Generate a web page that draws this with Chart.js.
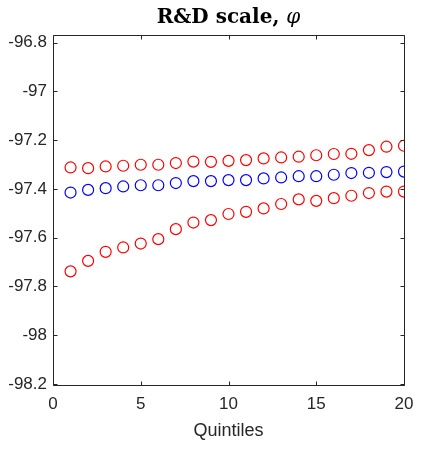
<!DOCTYPE html>
<html>
<head>
<meta charset="utf-8">
<script src="https://cdn.jsdelivr.net/npm/chart.js@4.4.1/dist/chart.umd.min.js"></script>
<style>
  html, body { margin: 0; padding: 0; background: #fff; }
  #wrap { position: relative; width: 424px; height: 450px; }
</style>
</head>
<body>
<div id="wrap"><canvas id="c" width="424" height="450"></canvas></div>
<script>
const quintiles = [1,2,3,4,5,6,7,8,9,10,11,12,13,14,15,16,17,18,19,20];
const upperBand = [-97.312,-97.315,-97.308,-97.305,-97.301,-97.301,-97.294,-97.288,-97.289,-97.285,
                   -97.282,-97.275,-97.271,-97.268,-97.262,-97.257,-97.256,-97.241,-97.227,-97.223];
const estimate  = [-97.415,-97.404,-97.397,-97.390,-97.385,-97.385,-97.376,-97.368,-97.368,-97.364,
                   -97.364,-97.357,-97.353,-97.348,-97.348,-97.342,-97.335,-97.334,-97.331,-97.329];
const lowerBand = [-97.738,-97.695,-97.658,-97.640,-97.624,-97.606,-97.565,-97.538,-97.528,-97.503,
                   -97.494,-97.480,-97.462,-97.443,-97.449,-97.438,-97.428,-97.417,-97.411,-97.411];
const xTicks = [0,5,10,15,20];
const yTicks = [-96.8,-97,-97.2,-97.4,-97.6,-97.8,-98,-98.2];
const titleMain = 'R&D scale, ';
const titleSym = 'φ';
const xLabel = 'Quintiles';

const axisColor = '#262626';

function pts(arr){ return quintiles.map((q,i)=>({x:q,y:arr[i]})); }

const boxPlugin = {
  id: 'boxPlugin',
  afterDraw(chart){
    const {ctx, chartArea:a, scales} = chart;
    ctx.save();
    ctx.strokeStyle = axisColor;
    ctx.lineWidth = 1;
    ctx.beginPath();
    const L = Math.round(a.left)+0.5, R = Math.round(a.right)+0.5, T = Math.round(a.top)+0.5, B = Math.round(a.bottom)+0.5;
    ctx.rect(L, T, R-L, B-T);
    const tl = 4;
    xTicks.forEach(v=>{
      const px = Math.round(scales.x.getPixelForValue(v))+0.5;
      ctx.moveTo(px,B); ctx.lineTo(px,B-tl);
      ctx.moveTo(px,T); ctx.lineTo(px,T+tl);
    });
    yTicks.forEach(v=>{
      const py = Math.round(scales.y.getPixelForValue(v))+0.5;
      ctx.moveTo(L,py); ctx.lineTo(L+tl,py);
      ctx.moveTo(R,py); ctx.lineTo(R-tl,py);
    });
    ctx.stroke();
    // title
    const f1 = 'bold 20px "DejaVu Serif"';
    const f2 = 'italic 20px "DejaVu Serif"';
    ctx.fillStyle = '#000';
    ctx.textBaseline = 'alphabetic';
    ctx.font = f1; const w1 = ctx.measureText(titleMain).width;
    ctx.font = f2; const w2 = ctx.measureText(titleSym).width;
    const cx = (a.left+a.right)/2;
    let x0 = cx - (w1+w2)/2;
    ctx.font = f1; ctx.textAlign='left'; ctx.fillText(titleMain, x0, 23);
    ctx.font = f2; ctx.fillText(titleSym, x0+w1, 23);
    ctx.restore();
  }
};

new Chart(document.getElementById('c'), {
  type: 'scatter',
  data: {
    datasets: [
      {data: pts(upperBand), borderColor:'#ff0000'},
      {data: pts(estimate), borderColor:'#0000ff'},
      {data: pts(lowerBand), borderColor:'#ff0000'}
    ].map(d=>Object.assign(d,{backgroundColor:'rgba(0,0,0,0)', pointRadius:5.5, pointHoverRadius:5.5, borderWidth:1.2, pointStyle:'circle', showLine:false}))
  },
  options: {
    responsive:false, animation:false,
    layout:{padding:{left:0,right:20,top:35,bottom:8}},
    plugins:{legend:{display:false}, tooltip:{enabled:false}},
    scales:{
      x:{
        type:'linear', min:0, max:20,
        afterBuildTicks(s){ s.ticks = xTicks.map(v=>({value:v})); },
        afterFit(s){ s.height = 57; },
        grid:{display:false, drawTicks:false},
        border:{display:false},
        ticks:{color:axisColor, font:{family:'"Liberation Sans", Arial', size:17}, padding:9, maxRotation:0, autoSkip:false},
        title:{display:true, text:xLabel, color:axisColor, font:{family:'"Liberation Sans", Arial', size:18}, padding:{top:2,bottom:0}}
      },
      y:{
        type:'linear', min:-98.204, max:-96.769,
        afterBuildTicks(s){ s.ticks = yTicks.map(v=>({value:v})); },
        afterFit(s){ s.width = 53; },
        grid:{display:false, drawTicks:false},
        border:{display:false},
        ticks:{color:axisColor, font:{family:'"Liberation Sans", Arial', size:17}, padding:6, autoSkip:false,
          callback:(v)=>String(Number(v.toFixed(1)))}
      }
    }
  },
  plugins:[boxPlugin]
});
</script>
</body>
</html>
